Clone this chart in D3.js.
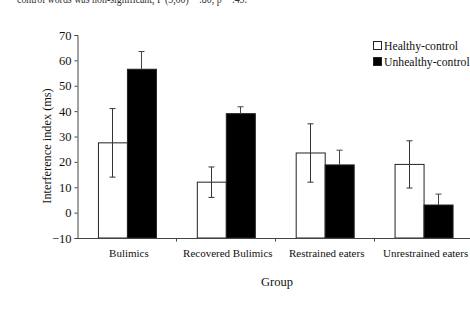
<!DOCTYPE html>
<html><head><meta charset="utf-8">
<script src="https://cdn.jsdelivr.net/npm/d3@7"></script>
<style>body{margin:0;background:#fff}svg{display:block}text{font-family:"Liberation Serif","Times New Roman",serif;fill:#111}</style>
</head><body>
<svg id="c" width="470" height="314"></svg>
<script>
const categories = ["Bulimics","Recovered Bulimics","Restrained eaters","Unrestrained eaters"];
const seriesNames = ["Healthy-control","Unhealthy-control"];
const healthy = [27.5, 12, 23.5, 19];
const healthyErr = [13.5, 6, 11.5, 9.3];
const unhealthy = [56.5, 39, 18.8, 3];
const unhealthyErr = [7, 2.7, 5.8, 4.3];
const yTicks = [-10,0,10,20,30,40,50,60,70];
const caption = "control words was non-significant, F (3,60) = .80, p = .43.";

(function(){
const svg = d3.select("#c");
const mLeft = 77.5, mRight = 473, mTop = 35, mBottom = 238;
const x = d3.scaleBand().domain(categories).range([mLeft, mRight]).paddingInner(0).paddingOuter(0);
const y = d3.scaleLinear().domain([-10,70]).range([mBottom, mTop]);
const bw = 29;
const serif = '"Liberation Serif","Times New Roman",serif';

// top caption (partially cut off, as in the reference)
svg.append("text").attr("x", 17).attr("y", 2.5).style("font-size","11.5px").style("fill","#333")
  .attr("textLength", 230).attr("lengthAdjust", "spacingAndGlyphs")
  .text(caption);

const series = [
  {name: seriesNames[0], vals: healthy, err: healthyErr, fill: "#fff", off: -bw, stroke: "#333"},
  {name: seriesNames[1], vals: unhealthy, err: unhealthyErr, fill: "#000", off: 0, stroke: "#444"}
];
const cx = c => x(c) + x.bandwidth()/2;

series.forEach(s => {
  svg.append("g").selectAll("rect").data(categories).join("rect")
    .attr("x", c => cx(c) + s.off + 0.5)
    .attr("y", (c,i) => y(s.vals[i]))
    .attr("width", bw)
    .attr("height", (c,i) => y(-10) - y(s.vals[i]))
    .attr("fill", s.fill).attr("stroke", "#222").attr("stroke-width", 1);
});
series.forEach(s => {
  const g = svg.append("g").attr("stroke", s.stroke).attr("stroke-width", 1);
  categories.forEach((c,i) => {
    const xm = Math.round(cx(c) + s.off + bw/2) + 0.5;
    const hi = y(s.vals[i] + s.err[i]), lo = y(s.vals[i] - s.err[i]);
    const mid = y(s.vals[i]);
    if (s.fill === "#000") {
      g.append("line").attr("x1", xm).attr("x2", xm).attr("y1", hi).attr("y2", mid);
      g.append("line").attr("x1", xm-3).attr("x2", xm+3).attr("y1", hi).attr("y2", hi);
    } else {
      g.append("line").attr("x1", xm).attr("x2", xm).attr("y1", hi).attr("y2", lo);
      g.append("line").attr("x1", xm-3).attr("x2", xm+3).attr("y1", hi).attr("y2", hi);
      g.append("line").attr("x1", xm-3).attr("x2", xm+3).attr("y1", lo).attr("y2", lo);
    }
  });
});

// y axis
const ya = svg.append("g").attr("transform", `translate(${mLeft},0)`)
  .call(d3.axisLeft(y).tickValues(yTicks).tickSize(3).tickPadding(3));
ya.attr("font-family", serif).attr("font-size", 12.5);
ya.select(".domain").attr("stroke", "#444");
ya.selectAll(".tick line").attr("stroke", "#444");
ya.selectAll("text").attr("fill", "#111").style("font-size","12.5px").style("font-family", serif);

// x axis
const xa = svg.append("g").attr("transform", `translate(0,${mBottom + 0.5})`);
xa.append("line").attr("x1", mLeft).attr("x2", 470).attr("stroke", "#444");
categories.slice(1).forEach(c => {
  xa.append("line").attr("x1", Math.round(x(c))+0.5).attr("x2", Math.round(x(c))+0.5).attr("y1", 0).attr("y2", 3).attr("stroke", "#444");
});
svg.append("g").selectAll("text").data(categories).join("text")
  .attr("x", c => cx(c) + 2).attr("y", 257).attr("text-anchor", "middle")
  .style("font-size","11px").text(c => c);

svg.append("text").attr("x", 277).attr("y", 286).attr("text-anchor","middle").style("font-size","12.5px").text("Group");
svg.append("text").attr("transform", "translate(51,146) rotate(-90)").attr("text-anchor","middle").style("font-size","12.3px").text("Interference index (ms)");

// legend
const lg = svg.append("g");
seriesNames.forEach((n,i) => {
  const yy = 42 + i*16;
  lg.append("rect").attr("x", 373.5).attr("y", yy - 0.5).attr("width", 8).attr("height", 8)
    .attr("fill", series[i].fill).attr("stroke", "#222");
  lg.append("text").attr("x", 384).attr("y", yy + 8).style("font-size","11.7px").text(n);
});
})();
</script>
</body></html>
